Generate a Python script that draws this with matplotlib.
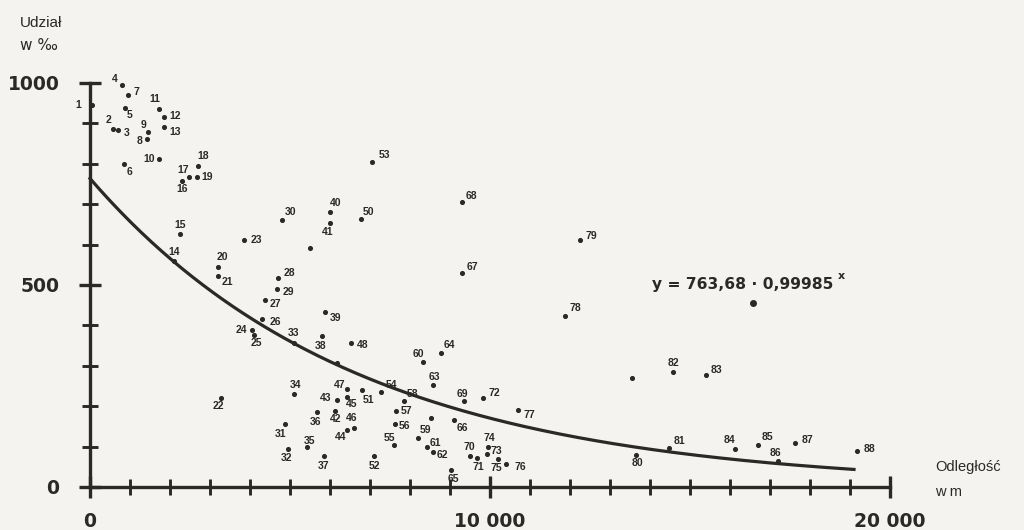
import numpy as np
import matplotlib.pyplot as plt

plt.rcParams['font.family'] = ['Liberation Sans', 'DejaVu Sans']

ink = '#2a2927'
paper = '#f4f3ef'

# numbered settlements: distance (m) and share (per mille)
point_ids = list(range(1, 49)) + list(range(50, 89))
dist_m = [40, 584, 709, 794, 877, 860, 945, 1421, 1461, 1737,
          1729, 1862, 1862, 2100, 2256, 2298, 2464, 2699, 2674, 3200,
          3190, 3283, 3859, 4060, 4110, 4303, 4368, 4704, 4679, 4804,
          4887, 4945, 5095, 5095, 5413, 5664, 5847, 5807, 5872, 5990,
          5990, 6115, 6183, 6416, 6433, 6599, 6433, 6516,
          6767, 6809, 7100, 7060, 7268, 7602, 7619, 7644, 7852, 8212,
          8329, 8421, 8563, 8579, 8772, 9023, 9106, 9298, 9290, 9356,
          9506, 9673, 9816, 9924, 9941, 10207, 10401, 10694, 11880, 12238,
          13659, 14469, 14578, 15396, 16123, 16692, 17193, 17627, 19173]
share = [945, 886, 884, 995, 939, 799, 970, 861, 879, 811,
         936, 917, 892, 560, 626, 758, 767, 795, 768, 545,
         523, 220, 611, 389, 376, 416, 463, 518, 490, 661,
         156, 94, 356, 229, 98, 186, 77, 374, 434, 680,
         654, 189, 215, 141, 222, 145, 243, 356,
         663, 240, 77, 805, 234, 104, 155, 188, 214, 122,
         310, 100, 86, 252, 332, 42, 166, 529, 706, 214,
         77, 71, 220, 81, 100, 69, 57, 191, 423, 611,
         79, 96, 285, 277, 93, 104, 64, 108, 89]

# label offsets from the dot, in pixels
label_dx = [-13, -5, 8, -7, 4, 5, 9, -7, -5, -10,
            -4, 11, 11, 0, 0, 0, -5, 5, 10, 4,
            10, -3, 12, -11, 2, 13, 11, 11, 11, 8,
            -5, -1, 0, 2, 3, -1, 0, -2, 11, 6,
            -2, 1, -12, -6, 4, -2, -8, 12,
            8, 6, 0, 12, 11, -5, 10, 11, 8, 7,
            -5, 9, 10, 1, 8, 2, 8, 11, 10, -2,
            -1, 1, 12, 9, 2, -2, 14, 12, 10, 12,
            1, 11, 0, 11, -5, 10, -2, 12, 13]
label_dy = [0, 9, -3, 6, -7, -8, 3, -2, 7, 0,
            10, 1, -5, 9, 9, -8, 7, 10, 0, 10,
            -6, -8, 0, 0, -8, -3, -4, 5, -3, 8,
            -10, -9, 10, 9, 6, -10, -10, -10, -6, 9,
            -9, -8, 2, -7, -7, 10, 4, -2,
            7, -10, -10, 7, 7, 7, -2, 0, 7, 8,
            8, 4, -3, 8, 8, -9, -8, 6, 6, 7,
            9, -9, 5, 3, 9, -9, -3, -5, 8, 4,
            -8, 7, 9, 5, 9, 8, 8, 3, 2]

# dots without a number
extra_x = [5489, 6183, 16566, 13551, 8521]
extra_y = [591, 306, 455, 270, 170]

a_coef = 763.68
b_coef = 0.99985

fig = plt.figure(figsize=(10.24, 5.3), dpi=100, facecolor=paper)
ax = fig.add_axes([90 / 1024, 43 / 530, 800 / 1024, 404 / 530])
ax.set_facecolor(paper)

ax.set_xlim(0, 20000)
ax.set_ylim(0, 1000)

xx = np.linspace(0, 19100, 300)
ax.plot(xx, a_coef * b_coef ** xx, color=ink, lw=2.3, clip_on=False)

ax.scatter(dist_m, share, s=7, color=ink, zorder=3, clip_on=False)
ax.scatter(extra_x, extra_y, s=7, color=ink, zorder=3, clip_on=False)
ax.scatter([16566], [455], s=16, color=ink, zorder=3, clip_on=False)

for i, n in enumerate(point_ids):
    ax.annotate(str(n), (dist_m[i], share[i]),
                xytext=(label_dx[i], label_dy[i]), textcoords='offset pixels',
                ha='center', va='center', fontsize=7.5, fontweight='bold',
                color=ink, annotation_clip=False)

for s in ['top', 'right']:
    ax.spines[s].set_visible(False)
for s in ['left', 'bottom']:
    ax.spines[s].set_linewidth(2.4)
    ax.spines[s].set_color(ink)

ax.set_yticks([0, 500, 1000])
ax.set_yticklabels(['0', '500', '1000'])
ax.set_yticks(np.arange(0, 1001, 100), minor=True)
ax.set_xticks([0, 10000, 20000])
ax.set_xticklabels(['0', '10 000', '20 000'])
ax.set_xticks(np.arange(0, 20001, 1000), minor=True)

ax.tick_params(which='major', direction='inout', length=16, width=2.4,
               color=ink, labelcolor=ink, labelsize=13.5)
ax.tick_params(which='minor', direction='inout', length=11, width=2.1, color=ink)
ax.tick_params(axis='y', which='major', pad=14)
ax.tick_params(axis='x', which='major', pad=10)
for lab in ax.get_xticklabels() + ax.get_yticklabels():
    lab.set_fontweight('bold')
    lab.set_family('DejaVu Sans')

fig.text(20 / 1024, 1 - 23 / 530, 'Udział', fontsize=11, color=ink,
         ha='left', va='center')
fig.text(20 / 1024, 1 - 46 / 530, 'w ‰', fontsize=11, color=ink,
         ha='left', va='center', family=['DejaVu Sans'])
fig.text(935 / 1024, 1 - 467 / 530, 'Odległość', fontsize=10.5, color=ink,
         ha='left', va='center')
fig.text(935 / 1024, 1 - 492 / 530, 'w m', fontsize=10.5, color=ink,
         ha='left', va='center')

fig.text(652 / 1024, 1 - 285 / 530, 'y = 763,68 · 0,99985', fontsize=11.2,
         fontweight='bold', color=ink, ha='left', va='center',
         family=['DejaVu Sans'])
fig.text(838 / 1024, 1 - 276 / 530, 'x', fontsize=8, fontweight='bold',
         color=ink, ha='left', va='center', family=['DejaVu Sans'])

fig.savefig('out.png', dpi=100, facecolor=paper)
